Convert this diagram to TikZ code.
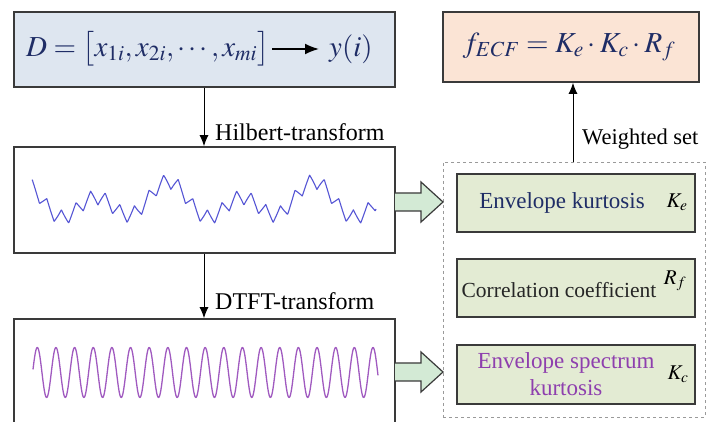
\documentclass[tikz,border=0pt]{standalone}
\usepackage{mathptmx}
\usepackage{fontspec}
\setmainfont{Liberation Serif}
\usetikzlibrary{arrows.meta,calc}
\definecolor{boxblue}{HTML}{DEE6F0}
\definecolor{boxpeach}{HTML}{FBE4D5}
\definecolor{gfill}{HTML}{E3EBD3}
\definecolor{afill}{HTML}{D3EAD5}
\definecolor{bline}{HTML}{3A3A3A}
\definecolor{navy}{HTML}{1F2D66}
\definecolor{purp}{HTML}{8E3FAE}
\definecolor{wblue}{HTML}{5555D5}
\definecolor{wpurp}{HTML}{A05AC0}
\definecolor{dgray}{HTML}{9A9A9A}
\tikzset{
  mainbox/.style={draw=bline, line width=1.6pt, rectangle, inner sep=0pt},
  greenbox/.style={draw=bline, line width=2pt, fill=gfill, rectangle, inner sep=0pt, minimum width=238pt},
  conn/.style={-{Latex[length=11pt,width=9pt]}, line width=1pt},
  lbl/.style={font=\fontsize{24}{26}\selectfont, anchor=west, inner sep=0pt},
  gtext/.style={font=\fontsize{23}{26}\selectfont, inner sep=0pt},
  sym/.style={font=\fontsize{21}{24}\selectfont, inner sep=0pt},
  blockarrow/.style={draw=bline, line width=1.2pt, fill=afill, line join=miter},
}
\begin{document}
\begin{tikzpicture}[x=1pt,y=-1pt]
\useasboundingbox (0,0) rectangle (713,422);
\clip (0,0) rectangle (713,422);
\fill[white] (0,0) rectangle (713,422);
% main boxes
\node[mainbox, fill=boxblue, minimum width=381pt, minimum height=75pt] (top) at (204.5,49.5) {};
\node[mainbox, fill=white, minimum width=381pt, minimum height=106pt] (mid) at (204.5,200) {};
\node[mainbox, fill=white, minimum width=381pt, minimum height=121pt] (bot) at (204.5,379.5) {};
% top box text
\node[inner sep=0pt, anchor=west, text=navy, font=\fontsize{29}{32}\selectfont] (dtext) at (26,49) {$D=\bigl[x_{1i},x_{2i},\cdots,x_{mi}\bigr]$};
\node[inner sep=0pt, anchor=west, text=navy, font=\fontsize{29}{32}\selectfont] (ytext) at (329,49) {$y(i)$};
\draw[-{Latex[length=14pt,width=11pt]}, line width=1.8pt] ([xshift=3pt]dtext.east) -- ([xshift=-10pt]ytext.west);
% vertical connectors
\coordinate (c1) at (204,87);
\draw[conn] (top.south -| c1) -- (mid.north -| c1);
\draw[conn] (mid.south -| c1) -- (bot.north -| c1);
\node[lbl] (hl) at (215,132) {Hilbert-transform};
\node[lbl] (dl) at (215,301) {DTFT-transform};
% waves
\draw[wblue, line width=1.1pt, line join=round] plot[domain=32:376, samples=700]
  (\x, {210 - (-13*cos(4.93151*(\x-59)) + 8*cos(2.46575*(\x-165)) + 15*abs(mod(\x-3,14.6)/7.3-1))});
\draw[wpurp, line width=1.3pt, line join=round] plot[domain=33:378, samples=600]
  (\x, {372.5 - 25*cos(19.3029*(\x-37.3))});
% right group
\node[draw=dgray, dashed, line width=0.8pt, rectangle, inner sep=0pt, minimum width=262pt, minimum height=255pt] (grp) at (574,289.5) {};
\node[greenbox, minimum height=58pt] (g1) at (576,203) {};
\node[greenbox, minimum height=58pt] (g2) at (576,288) {};
\node[greenbox, minimum height=59pt] (g3) at (576,374.5) {};
\node[gtext, text=navy] (t1) at (562,203) {Envelope kurtosis};
\node[sym] (k1) at (677,202) {$K_e$};
\node[gtext, font=\fontsize{21.5}{24}\selectfont, text=black!85] (t2) at (559,290) {Correlation coefficient};
\node[sym] (k2) at (675,281) {$R_f$};
\node[gtext, text=purp, align=center, font=\fontsize{23}{27}\selectfont] (t3) at (566,374) {Envelope spectrum\\kurtosis};
\node[sym] (k3) at (678,374) {$K_c$};
% result box
\node[mainbox, fill=boxpeach, minimum width=256pt, minimum height=70pt] (fbox) at (571,47) {};
\node[inner sep=0pt, text=navy, font=\fontsize{29}{32}\selectfont] (ftext) at (569,47) {$f_{ECF}=K_e\cdot K_c\cdot R_f$};
\coordinate (c2) at (573,100);
\draw[conn] (grp.north -| c2) -- (fbox.south -| c2);
\node[lbl, font=\fontsize{22.5}{25}\selectfont] (wl) at (582,139) {Weighted set};
% block arrows
\draw[blockarrow] (395,193) -- (421,193) -- (421,182) -- (443,202) -- (421,222) -- (421,211) -- (395,211);
\draw[blockarrow] (395,363) -- (421,363) -- (421,352) -- (443,372) -- (421,392) -- (421,381) -- (395,381);
\end{tikzpicture}
\end{document}
